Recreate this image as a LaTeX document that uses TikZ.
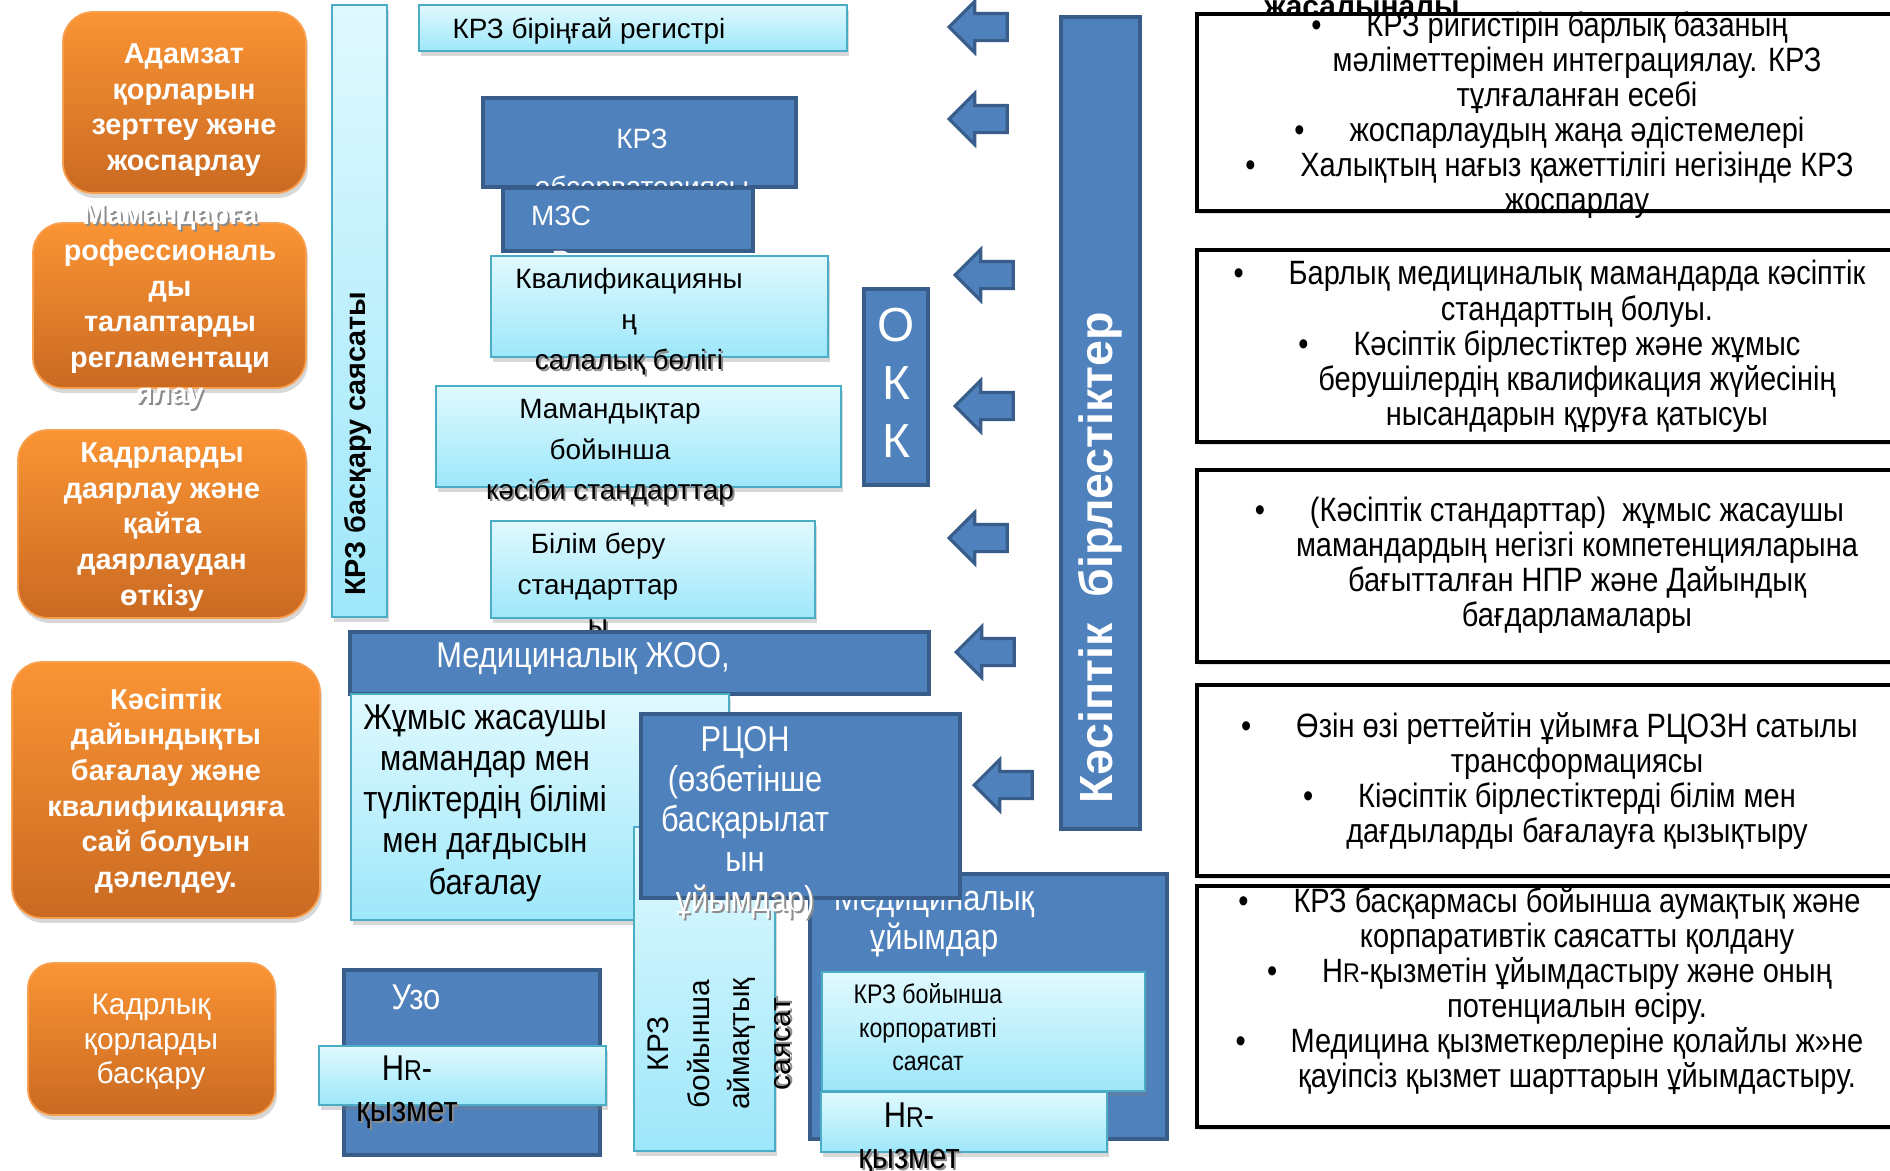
\documentclass[tikz,border=0pt]{standalone}
\usepackage{fontspec}
\setmainfont{Liberation Sans}
\newfontfamily\narrowfont{Liberation Sans}[FakeStretch=0.86]
\usepackage{tikz}
\usetikzlibrary{shapes.arrows, shadows, positioning}

\definecolor{orTop}{RGB}{250,148,52}
\definecolor{orBot}{RGB}{202,106,34}
\definecolor{orLine}{RGB}{248,160,80}
\definecolor{cyTop}{RGB}{224,249,254}
\definecolor{cyBot}{RGB}{158,231,250}
\definecolor{cyLine}{RGB}{75,172,198}
\definecolor{blFill}{RGB}{79,129,189}
\definecolor{blLine}{RGB}{56,93,138}

\newcommand{\setfs}[2]{\fontsize{#1}{#2}\selectfont}
\newcommand{\shd}[1]{\leavevmode\rlap{\kern1.1pt\raisebox{-1.1pt}{\color{black!45}#1}}#1}
\newcommand{\blt}{\leavevmode\llap{\textbullet\hspace{0.9cm}}}
\newcommand{\HR}{H\scalebox{0.8}{R}}

\begin{document}
\begin{tikzpicture}[
        x=0.02cm, y=-0.02cm,
        orangebox/.style={rounded corners=0.6cm, draw=orLine, line width=1pt, top color=orTop, bottom color=orBot, inner sep=0pt,
            drop shadow={shadow xshift=0.04cm, shadow yshift=-0.1cm, opacity=0.3}},
        cyanbox/.style={draw=cyLine, line width=1.3pt, top color=cyTop, bottom color=cyBot, inner sep=0pt,
            drop shadow={shadow xshift=0.04cm, shadow yshift=-0.1cm, opacity=0.3}},
        bluebox/.style={draw=blLine, line width=2.2pt, fill=blFill, inner sep=0pt},
        notebox/.style={draw=black, line width=2.6pt, fill=white, inner sep=0pt,
            drop shadow={shadow xshift=0.03cm, shadow yshift=-0.06cm, opacity=0.25}},
        leftarrow/.style={single arrow, shape border rotate=180, draw=blLine, line width=1.8pt, fill=blFill,
            minimum width=0.96cm, minimum height=1.16cm, single arrow head extend=0.24cm,
            inner xsep=0pt, inner ysep=0.24cm},
        wbold/.style={text=white, font=\bfseries\setfs{16.4pt}{20.3pt}, align=center},
        mid/.style={font=\setfs{15.9pt}{23pt}, align=center},
        narrow/.style={font=\narrowfont\setfs{20.4pt}{23.5pt}, align=center},
        note/.style={font=\narrowfont\setfs{19.2pt}{20pt}, align=center}
    ]

    \fill[white] (0,0) rectangle (1890,1170);
    \useasboundingbox (0,0) rectangle (1890,1170);

    % left column
    \node (o1) [orangebox, minimum width=4.86cm, minimum height=3.62cm] at (184.5,102.5) {};
    \node (o1t) [wbold] at (184,110) {Адамзат\\қорларын\\зерттеу және\\жоспарлау};
    \node (o2) [orangebox, minimum width=5.46cm, minimum height=3.3cm] at (169.5,305.5) {};
    \node (o2t) [wbold] at (170,308) {\shd{Мамандарға}\\рофессиональ\\ды\\талаптарды\\регламентаци\\\shd{ялау}};
    \node (o3) [orangebox, minimum width=5.76cm, minimum height=3.76cm] at (162,524) {};
    \node (o3t) [wbold] at (162,527) {Кадрларды\\даярлау және\\қайта\\даярлаудан\\өткізу};
    \node (o4) [orangebox, minimum width=6.16cm, minimum height=5.12cm] at (166,790) {};
    \node (o4t) [wbold] at (166,791) {Кәсіптік\\дайындықты\\бағалау және\\квалификацияға\\сай болуын\\дәлелдеу.};
    \node (o5) [orangebox, rounded corners=0.5cm, minimum width=4.94cm, minimum height=3.04cm] at (151.5,1039) {};
    \node (o5t) [text=white, align=center, font=\setfs{17pt}{19.8pt}] at (151,1042) {Кадрлық\\қорларды\\басқару};

    % policy bar
    \node (bar) [cyanbox, minimum width=1.1cm, minimum height=12.24cm] at (359.5,311) {};
    \node (bart) [rotate=90, font=\bfseries\setfs{16.4pt}{20pt}] at (358,443.5) {КРЗ басқару саясаты};

    % middle column
    \node (reg) [cyanbox, minimum width=8.56cm, minimum height=0.92cm] at (633,28) {};
    \node (regt) [mid] at (589,31) {КРЗ біріңғай регистрі};
    \node (obs) [bluebox, minimum width=6.26cm, minimum height=1.78cm] at (639.5,142.5) {};
    \node (obst) [mid, text=white, font=\setfs{15.9pt}{27.2pt}] at (642,166) {КРЗ\\обсерваториясы};
    \node (mzs) [bluebox, minimum width=5cm, minimum height=1.26cm] at (628,219.5) {};
    \node (mzst) [mid, text=white, font=\setfs{15.9pt}{25.5pt}] at (561,238.5) {МЗС\\Р};
    \node (kval) [cyanbox, minimum width=6.74cm, minimum height=2.02cm] at (659.5,306.5) {};
    \node (kvalt) [mid] at (629,323) {Квалификацияны\\ң\\\shd{салалық бөлігі}};
    \node (mam) [cyanbox, minimum width=8.1cm, minimum height=2.02cm] at (638.5,436.5) {};
    \node (mamt) [mid] at (610,453.5) {Мамандықтар\\бойынша\\\shd{кәсіби стандарттар}};
    \node (bil) [cyanbox, minimum width=6.48cm, minimum height=1.94cm] at (653,569.5) {};
    \node (bilt) [mid] at (598,585) {Білім беру\\стандарттар\\\shd{ы}};
    \node (zhoo) [bluebox, minimum width=11.58cm, minimum height=1.24cm] at (639.5,663) {};
    \node (zhoot) [narrow, text=white] at (583,659) {Медициналық ЖОО,};
    \node (zhum) [cyanbox, minimum width=7.56cm, minimum height=4.52cm] at (540,807) {};
    \node (zhumt) [narrow] at (485,803) {Жұмыс жасаушы\\мамандар мен\\түліктердің білімі\\мен дағдысын\\бағалау};
    \node (aim) [cyanbox, minimum width=2.82cm, minimum height=6.48cm] at (704.5,989) {};
    \node (aimt) [rotate=90, align=center, font=\setfs{17pt}{23.1pt}] at (720,1044) {КРЗ\\бойынша\\аймақтық\\\shd{саясат}};
    \node (med) [bluebox, minimum width=7.14cm, minimum height=5.3cm] at (988.5,1006.5) {};
    \node (medt) [narrow, text=white, font=\narrowfont\setfs{20.4pt}{22.1pt}] at (934,921.5) {Медициналық\\ұйымдар};
    \node (rcon) [bluebox, minimum width=6.38cm, minimum height=3.68cm] at (800.5,806) {};
    \node (rcont) [narrow, text=white, font=\narrowfont\setfs{20.4pt}{22.7pt}] at (745,823.5) {РЦОН\\(өзбетінше\\басқарылат\\ын\\\shd{ұйымдар)}};
    \node (korp) [cyanbox, minimum width=6.46cm, minimum height=2.38cm] at (983.5,1031.5) {};
    \node (korpt) [narrow, font=\narrowfont\setfs{15.3pt}{19pt}] at (928,1027.5) {КРЗ бойынша\\корпоративті\\саясат};
    \node (hr2) [cyanbox, minimum width=5.72cm, minimum height=1.2cm] at (964,1122) {};
    \node (hr2t) [narrow] at (909,1140) {\HR-\\\shd{қызмет}};
    \node (uzo) [bluebox, minimum width=5.12cm, minimum height=3.7cm] at (472,1062.5) {};
    \node (uzot) [narrow, text=white] at (416,997) {Узо};
    \node (hr1) [cyanbox, minimum width=5.74cm, minimum height=1.18cm] at (462.5,1075.5) {};
    \node (hr1t) [narrow] at (407,1093) {\HR-\\\shd{қызмет}};

    % OKK, arrows, associations
    \node (okk) [bluebox, minimum width=1.28cm, minimum height=3.92cm] at (896,387) {};
    \node (okkt) [text=white, align=center, font=\setfs{27.2pt}{32.9pt}] at (896,383) {О\\К\\К};
    \foreach \ax/\ay [count=\i] in {985/27, 985/119, 991/275, 991/406, 985/538, 992/652, 1010/785}
        \node (arr\i) [leftarrow] at (\ax,\ay) {};
    \node (kas) [bluebox, minimum width=1.58cm, minimum height=16.24cm] at (1100.5,423) {};
    \node (kast) [rotate=90, text=white, font=\bfseries\setfs{26.5pt}{28pt}] at (1100,558) {Кәсіптік~ бірлестіктер};

    % right column
    \node (head) [anchor=base, font=\bfseries\setfs{17pt}{20pt}] at (1362,16) {жасалыналы};
    \node (r1) [notebox, minimum width=14.16cm, minimum height=3.94cm] at (1551,112.5) {};
    \node (r1t) [note] at (1577,115) {\blt КРЗ ригистірін барлық базаның\\мәліметтерімен интеграциялау. КРЗ\\тұлғаланған есебі\\\blt жоспарлаудың жаңа әдістемелері\\\blt Халықтың нағыз қажеттілігі негізінде КРЗ\\жоспарлау};
    \node (r2) [notebox, minimum width=14.16cm, minimum height=3.84cm] at (1551,346) {};
    \node (r2t) [note] at (1577,346.5) {\blt Барлық медициналық мамандарда кәсіптік\\стандарттың болуы.\\\blt Кәсіптік бірлестіктер және жұмыс\\берушілердің квалификация жүйесінің\\нысандарын құруға қатысуы};
    \node (r3) [notebox, minimum width=14.16cm, minimum height=3.84cm] at (1551,566) {};
    \node (r3t) [note] at (1577,565) {\blt (Кәсіптік стандарттар)~~жұмыс жасаушы\\мамандардың негізгі компетенцияларына\\бағытталған НПР және Дайындық\\бағдарламалары};
    \node (r4) [notebox, minimum width=14.16cm, minimum height=3.82cm] at (1551,780.5) {};
    \node (r4t) [note] at (1577,781) {\blt Өзін өзі реттейтін ұйымға РЦОЗН сатылы\\трансформациясы\\\blt Кіәсіптік бірлестіктерді білім мен\\дағдыларды бағалауға қызықтыру};
    \node (r5) [notebox, minimum width=14.16cm, minimum height=4.82cm] at (1551,1006.5) {};
    \node (r5t) [note] at (1577,991) {\blt КРЗ басқармасы бойынша аумақтық және\\корпаративтік саясатты қолдану\\\blt \HR-қызметін ұйымдастыру және оның\\потенциалын өсіру.\\\blt Медицина қызметкерлеріне қолайлы ж»не\\қауіпсіз қызмет шарттарын ұйымдастыру.};

\end{tikzpicture}
\end{document}
